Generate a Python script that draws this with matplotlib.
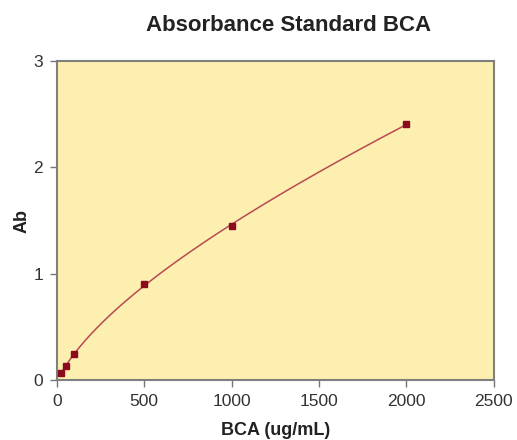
import numpy as np
import matplotlib
matplotlib.use("Agg")
import matplotlib.pyplot as plt

plt.rcParams['font.family'] = ['Liberation Sans', 'DejaVu Sans']

# standard concentrations and absorbance readings
bca_conc = [25, 50, 100, 500, 1000, 2000]
absorb = [0.066, 0.135, 0.245, 0.90, 1.45, 2.41]

x_ticks = [0, 500, 1000, 1500, 2000, 2500]
y_ticks = [0, 1, 2, 3]

fig = plt.figure(figsize=(5.17, 4.40), dpi=100)
ax = fig.add_axes([0.110, 0.136, 0.845, 0.725])
ax.set_facecolor('#fcefb0')

# smooth fitted curve through the standards (log-log cubic)
lx = np.log(bca_conc)
ly = np.log(absorb)
coef = np.polyfit(lx, ly, 3)
xs = np.linspace(min(bca_conc), max(bca_conc), 400)
ax.plot(xs, np.exp(np.polyval(coef, np.log(xs))), color='#b84a52', lw=1.1, zorder=2)
ax.plot(bca_conc, absorb, 's', color='#8b0a1e', ms=4, zorder=3)

ax.set_xlim(0, 2500)
ax.set_ylim(0, 3)
ax.set_xticks(x_ticks)
ax.set_yticks(y_ticks)
ax.tick_params(direction='out', length=5, width=1, colors='#777777',
               labelcolor='#333333', labelsize=12.5, pad=5)
for s in ax.spines.values():
    s.set_color('#808080')
    s.set_linewidth(1.5)

ax.set_title('Absorbance Standard BCA', fontsize=16, fontweight='bold',
             color='#222222', pad=22, x=0.53)
ax.set_xlabel('BCA (ug/mL)', fontsize=13, fontweight='bold', color='#222222',
              labelpad=9)
ax.set_ylabel('Ab', fontsize=13, fontweight='bold', color='#222222',
              labelpad=2)

fig.savefig('out.png', dpi=100)
